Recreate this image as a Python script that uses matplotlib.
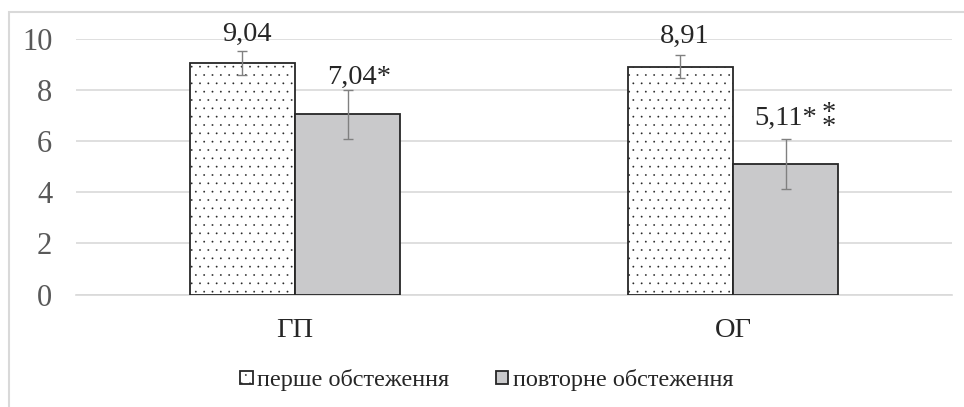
import numpy as np
import matplotlib.pyplot as plt
from matplotlib.patches import Rectangle

# data
groups = ["ГП", "ОГ"]
first_vals = [9.04, 8.91]
second_vals = [7.04, 5.11]
first_err = [0.46, 0.45]
second_err = [0.97, 0.97]
first_labels = ["9,04", "8,91"]
second_labels = ["7,04*", "5,11*"]
legend_names = ["перше обстеження", "повторне обстеження"]

plt.rcParams["font.family"] = ["Liberation Serif", "DejaVu Serif"]
plt.rcParams["hatch.linewidth"] = 0.1

fig = plt.figure(figsize=(9.64, 4.07), dpi=100)
ax = fig.add_axes([0.0788, 0.276, 0.9088, 0.629])

x = np.arange(len(groups))
w = 0.24
b1 = ax.bar(x - w / 2, first_vals, w, color="white", edgecolor="#262626",
            linewidth=1.3, hatch="..", label=legend_names[0], zorder=3)
b2 = ax.bar(x + w / 2, second_vals, w, color="#c9c9cb", edgecolor="#262626",
            linewidth=1.3, label=legend_names[1], zorder=3)
ax.errorbar(x - w / 2, first_vals, yerr=first_err, fmt="none", ecolor="#808080",
            elinewidth=1.0, capsize=3.3, capthick=1.0, zorder=4)
ax.errorbar(x + w / 2, second_vals, yerr=second_err, fmt="none", ecolor="#808080",
            elinewidth=1.0, capsize=3.3, capthick=1.0, zorder=4)

# value labels
lab_kw = dict(ha="center", va="center", fontsize=20.5, color="#262626",
              textcoords="offset points", annotation_clip=False)
first_off = [(3, 21), (3, 22)]
second_off = [(8, 27), (0, 33)]
for i in range(len(groups)):
    ax.annotate(first_labels[i], (x[i] - w / 2, first_vals[i]), xytext=first_off[i], **lab_kw)
    ax.annotate(second_labels[i], (x[i] + w / 2, second_vals[i]), xytext=second_off[i], **lab_kw)
# stacked double star after 5,11*
ax.annotate("*\n*", (x[1] + w / 2, second_vals[1]), xytext=(31, 31),
            ha="center", va="center", fontsize=20.5, linespacing=0.4,
            color="#262626", textcoords="offset points", annotation_clip=False)

ax.set_xlim(-0.5, 1.5)
ax.set_ylim(0, 10)
ax.set_yticks([0, 2, 4, 6, 8, 10])
ax.set_xticks(x)
ax.set_xticklabels(groups, fontsize=20.5, color="#262626")
ax.tick_params(axis="y", labelsize=22, labelcolor="#595959", length=0, pad=17)
ax.tick_params(axis="x", length=0, pad=17)
ax.grid(axis="y", color="#d9d9d9", linewidth=1.2, zorder=0)
ax.set_axisbelow(True)
for s in ["top", "right", "left"]:
    ax.spines[s].set_visible(False)
ax.spines["bottom"].set_color("#d9d9d9")
ax.spines["bottom"].set_linewidth(1.2)

leg = fig.legend(handles=[b1, b2], loc="center", bbox_to_anchor=(0.505, 0.066),
                 ncol=2, frameon=False, fontsize=17.5, handlelength=0.5,
                 handleheight=0.5, handletextpad=0.2, columnspacing=1.9)
for t in leg.get_texts():
    t.set_color("#262626")

# chart border (cropped at right and bottom)
fig.add_artist(Rectangle((0.0093, -0.05), 1.05, 1.0205, transform=fig.transFigure,
                         fill=False, edgecolor="#d9d9d9", linewidth=1.5))

fig.savefig("out.png", dpi=100)
